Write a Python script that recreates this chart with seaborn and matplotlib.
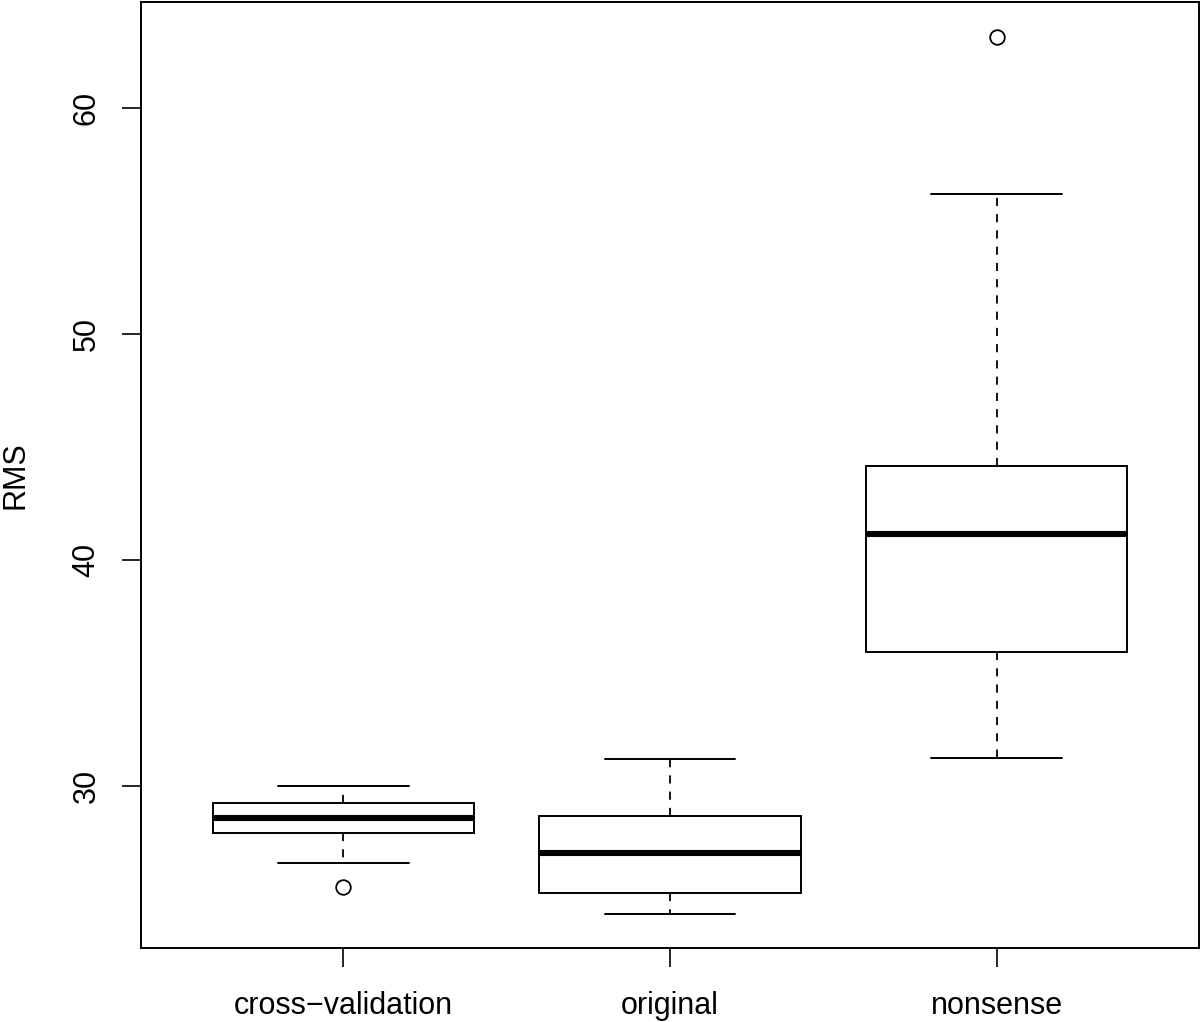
import numpy as np
import pandas as pd
import matplotlib
matplotlib.use("Agg")
import matplotlib.pyplot as plt
import seaborn as sns

# ---- data (five-number summaries + outliers) ----
groups = ["cross\u2212validation", "original", "nonsense"]
whisker_low = [26.60, 24.35, 31.25]
q1 = [27.92, 25.25, 35.93]
median = [28.58, 27.02, 41.15]
q3 = [29.25, 28.67, 44.16]
whisker_high = [30.00, 31.18, 56.21]
outliers = [[25.53], [], [63.14]]

# Rebuild a sample for each group whose box statistics equal the summaries
rows = []
for g, lo, a, m, b, hi, outs in zip(groups, whisker_low, q1, median, q3,
                                     whisker_high, outliers):
    for v in [lo, a, m, b, hi] * 4 + list(outs):
        rows.append({"group": g, "RMS": v})
df = pd.DataFrame(rows)

sns.set_theme(style="white")
plt.rcParams["font.family"] = ["Liberation Sans", "DejaVu Sans"]
plt.rcParams["text.color"] = "black"
plt.rcParams["axes.labelcolor"] = "black"
plt.rcParams["xtick.color"] = "black"
plt.rcParams["ytick.color"] = "black"

fig = plt.figure(figsize=(12, 10.22), dpi=100)
ax = fig.add_axes([141 / 1200, 1 - 948 / 1022, 1058 / 1200, 946 / 1022])

sns.boxplot(
    data=df, x="group", y="RMS", order=groups, ax=ax,
    color="white", saturation=1, linecolor="black", linewidth=1.4,
    width=0.8, whis=1.5, fliersize=10.5,
    medianprops=dict(linewidth=4.4, color="black", solid_capstyle="butt"),
    whiskerprops=dict(linestyle=(0, (4.5, 4.5)), linewidth=1.3, color="black"),
    capprops=dict(linewidth=1.4, color="black"),
    flierprops=dict(marker="o", markerfacecolor="none",
                    markeredgecolor="black", markeredgewidth=1.3),
    boxprops=dict(edgecolor="black", facecolor="white", linewidth=1.4),
)

ax.set_xlim(-0.62, 2.62)
ax.set_ylim(22.83, 64.69)
ax.set_yticks([30, 40, 50, 60])
ax.set_yticklabels(["30", "40", "50", "60"], rotation=90, va="center")
ax.set_xlabel("")
ax.set_ylabel("RMS", fontsize=22, color="black")
ax.yaxis.set_label_coords(-0.104, 0.5)

for s in ax.spines.values():
    s.set_visible(True)
    s.set_color("black")
    s.set_linewidth(1.4)

ax.tick_params(axis="both", which="major", direction="out", length=13.5,
               width=1.2, color="black", labelcolor="black", labelsize=22,
               left=True, bottom=True)
ax.tick_params(axis="x", pad=17.5)
ax.tick_params(axis="y", pad=15)

fig.savefig("out.png", dpi=100, facecolor="white")
